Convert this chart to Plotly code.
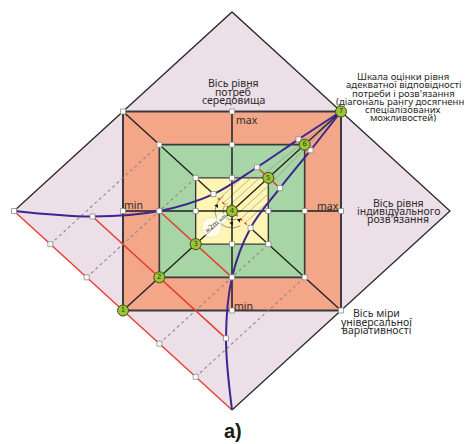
import math
import plotly.graph_objects as go

W, H = 472, 444
OFF = 8                      # page body margin of the browser
FW, FH = W - OFF, H - OFF    # figure size

# ---------------- data (unit coordinates of the scheme) ----------------
DIAMOND_HALF = 2.0
SQUARE_HALVES = [1.0, 2 / 3, 1 / 3]                 # orange, green, yellow levels
SQUARE_FILLS = ["#f3a688", "#a7d5a5", "#fff6b3"]
SQUARE_EDGE_W = [2.0, 1.6, 1.4]
DIAG_POS = [-1, -2 / 3, -1 / 3, 0, 1 / 3, 2 / 3, 1]   # numbered points on the diagonal
DIAG_LABELS = ["1", "2", "3", "4", "5", "6", "7"]

# upper blue curve (lower one is its mirror about the diagonal)
CURVE_U = [-2.0, -1.28, -0.667, -0.17, 0.23, 0.61, 1.0]
CURVE_V = [0.0, -0.055, 0.0, 0.17, 0.44, 0.72, 1.0]

DASH_OFFSETS = [4 / 3, 2 / 3, -2 / 3, -4 / 3]      # dotted lines y = x + c
HATCH_OFFSETS = [-0.24, -0.16, -0.08, 0.08, 0.16, 0.24]
EDGE_TICKS = [-5 / 3, -4 / 3, -2 / 3, -1 / 3]       # marks on lower-left edge (u values)

TOP_LABEL = ["Вісь рівня", "потреб", "середовища"]
SCALE_LABEL = ["Шкала оцінки рівня", "адекватної відповідності", "потреби і розв'язання",
               "(діагональ рангу досягнення", "спеціалізованих", "можливостей)"]
RIGHT_LABEL = ["Вісь рівня", "індивідуального", "розв'язання"]
BOTTOM_LABEL = ["Вісь міри", "універсальної", "варіативності"]
MINMAX = ["max", "min", "max", "min"]
PANEL = "a)"

# ---------------- figure ----------------
fig = go.Figure()
shapes = []
d = DIAMOND_HALF
shapes.append(dict(type="path", xref="x", yref="y", layer="below",
                   path=f"M {-d},0 L 0,{d} L {d},0 L 0,{-d} Z",
                   fillcolor="#eddfe7", line=dict(width=0)))
for h, c, lw in zip(SQUARE_HALVES, SQUARE_FILLS, SQUARE_EDGE_W):
    shapes.append(dict(type="rect", xref="x", yref="y", layer="below",
                       x0=-h, x1=h, y0=-h, y1=h, fillcolor=c,
                       line=dict(color="#3a3a3a", width=lw)))


def seg(xs, ys, color, width=1.2, dash="solid", shape="linear"):
    fig.add_trace(go.Scatter(x=xs, y=ys, mode="lines", hoverinfo="skip",
                             line=dict(color=color, width=width, dash=dash, shape=shape),
                             showlegend=False))


# arcs around the centre (decoration)
for r in [0.09, 0.17]:
    pts = []
    for k in range(0, 41):
        a = math.radians(120 + k * 4.5)
        pts.append((r * math.cos(a) * 0.913, r * math.sin(a)))
    seg([p[0] for p in pts], [p[1] for p in pts], "#7a7a7a", 0.8)

# dotted grey lines parallel to the diagonal
for c in DASH_OFFSETS:
    seg([(-2 - c) / 2, -c / 2], [(-2 + c) / 2, c / 2], "#8a8a8a", 1.1, "dot")

# hatch in the yellow square
for dd in HATCH_OFFSETS:
    t = SQUARE_HALVES[2]
    if dd > 0:
        xe, ye = t - dd, t
    else:
        xe, ye = t, t + dd
    seg([-dd / 2, xe], [dd / 2, ye], "#a9a48a", 0.8)
# grey lines toward point 7
for dd in [0.08, -0.08]:
    seg([DIAG_POS[4] - dd / 2 - 0.02, 1], [DIAG_POS[4] + dd / 2 - 0.02, 1], "#9a9a9a", 0.8)

# diamond edges
seg([-d, 0, d, 0], [0, d, 0, -d], "#2a2a2a", 1.3)
seg([-d, 0], [0, -d], "#e8392c", 1.3)

# cross axes
seg([-1, 1], [0, 0], "#1e1e1e", 1.5)
seg([0, 0], [-1, 1], "#1e1e1e", 1.5)

# main diagonal and anti-diagonal
seg([-1, 1], [-1, 1], "#1e1e1e", 1.3)
seg([-1, CURVE_U[3]], [1, CURVE_V[3]], "#1e1e1e", 1.3)
seg([CURVE_V[3], 1], [CURVE_U[3], -1], "#1e1e1e", 1.3)

# red perpendicular segments between the two curves
for i in range(1, 6):
    seg([CURVE_U[i], CURVE_V[i]], [CURVE_V[i], CURVE_U[i]], "#e8392c",
        1.4, "dot" if i == 3 else "solid")

# blue curves
seg(CURVE_U, CURVE_V, "#3b2590", 2.0, shape="spline")
seg(CURVE_V, CURVE_U, "#3b2590", 2.0, shape="spline")

# white square nodes
sq_u, sq_v = [-d], [0]
for h in SQUARE_HALVES:
    sq_u += [-h, 0, -h, h, 0, h]
    sq_v += [h, h, 0, 0, -h, -h]
for u in EDGE_TICKS:
    sq_u.append(u)
    sq_v.append(-2 - u)
for i in range(1, 6):
    sq_u += [CURVE_U[i], CURVE_V[i]]
    sq_v += [CURVE_V[i], CURVE_U[i]]
fig.add_trace(go.Scatter(x=sq_u, y=sq_v, mode="markers", hoverinfo="skip", showlegend=False,
                         marker=dict(symbol="square", size=5, color="white",
                                     line=dict(color="#8c8c8c", width=0.8))))

# small arrows near the centre
fig.add_trace(go.Scatter(x=[-0.14, -0.003, 0.064], y=[0.05, -0.124, -0.093], mode="markers",
                         hoverinfo="skip", showlegend=False,
                         marker=dict(symbol="triangle-up", size=4, color="#111", angle=45)))

# white ~m circles
fig.add_trace(go.Scatter(x=[-0.186, -0.094], y=[-0.164, -0.073], mode="markers",
                         hoverinfo="skip", showlegend=False,
                         marker=dict(size=[20, 11], color="white",
                                     line=dict(color="#cfcfcf", width=0.6))))

# numbered circles
fig.add_trace(go.Scatter(x=DIAG_POS, y=DIAG_POS, mode="markers+text", text=DIAG_LABELS,
                         textposition="middle center", hoverinfo="skip", showlegend=False,
                         textfont=dict(size=7, color="#2f3d05", family="DejaVu Sans"),
                         marker=dict(size=11, color="#9cc43a",
                                     line=dict(color="#3f4f12", width=1))))

ann = []
FONT = "Noto Sans"
TXT = "#2b2b2b"


def px2paper(px, py):
    return (px - OFF) / FW, 1 - (py - OFF) / FH


def label(lines, px, y0, step=8.3, size=10.5, anchor="center"):
    for k, s in enumerate(lines):
        xp, yp = px2paper(px, y0 + k * step)
        ann.append(dict(text=s, xref="paper", yref="paper", x=xp, y=yp,
                        xanchor=anchor, yanchor="middle", showarrow=False, borderpad=0,
                        font=dict(family=FONT, size=size, color=TXT)))


label(TOP_LABEL, 233, 83.3)
label(SCALE_LABEL, 403, 76.7, step=8.2, size=9.6)
label(RIGHT_LABEL, 398, 203.3, step=7.6)
label(BOTTOM_LABEL, 376, 313.3, step=8.3)
label([MINMAX[0]], 247, 120)
label([MINMAX[1]], 133, 205)
label([MINMAX[2]], 328, 206)
label([MINMAX[3]], 244, 306)
for s, px, py, fs in [("≈2m", 211.7, 227.3, 6.5), ("≈m", 221.7, 218.3, 4.5)]:
    xp, yp = px2paper(px, py)
    ann.append(dict(text=s, xref="paper", yref="paper", x=xp, y=yp,
                    xanchor="center", yanchor="middle",
                    showarrow=False, textangle=-40,
                    font=dict(family="DejaVu Sans", size=fs, color="#333")))
xp, yp = px2paper(233, 431)
ann.append(dict(text="<b>" + PANEL + "</b>", xref="paper", yref="paper", x=xp, y=yp,
                xanchor="center", yanchor="middle",
                showarrow=False, font=dict(family="Liberation Sans", size=20, color="#1a1a1a")))

fig.update_layout(width=FW, height=FH, margin=dict(l=0, r=0, t=0, b=0),
                  paper_bgcolor="white", plot_bgcolor="white",
                  shapes=shapes, annotations=ann, showlegend=False,
                  xaxis=dict(range=[-(232 - OFF) / 109, (FW - (232 - OFF)) / 109],
                             visible=False, fixedrange=True),
                  yaxis=dict(range=[-(FH - (211 - OFF)) / 99.5, (211 - OFF) / 99.5],
                             visible=False, fixedrange=True))

fig.write_html("out.html")
